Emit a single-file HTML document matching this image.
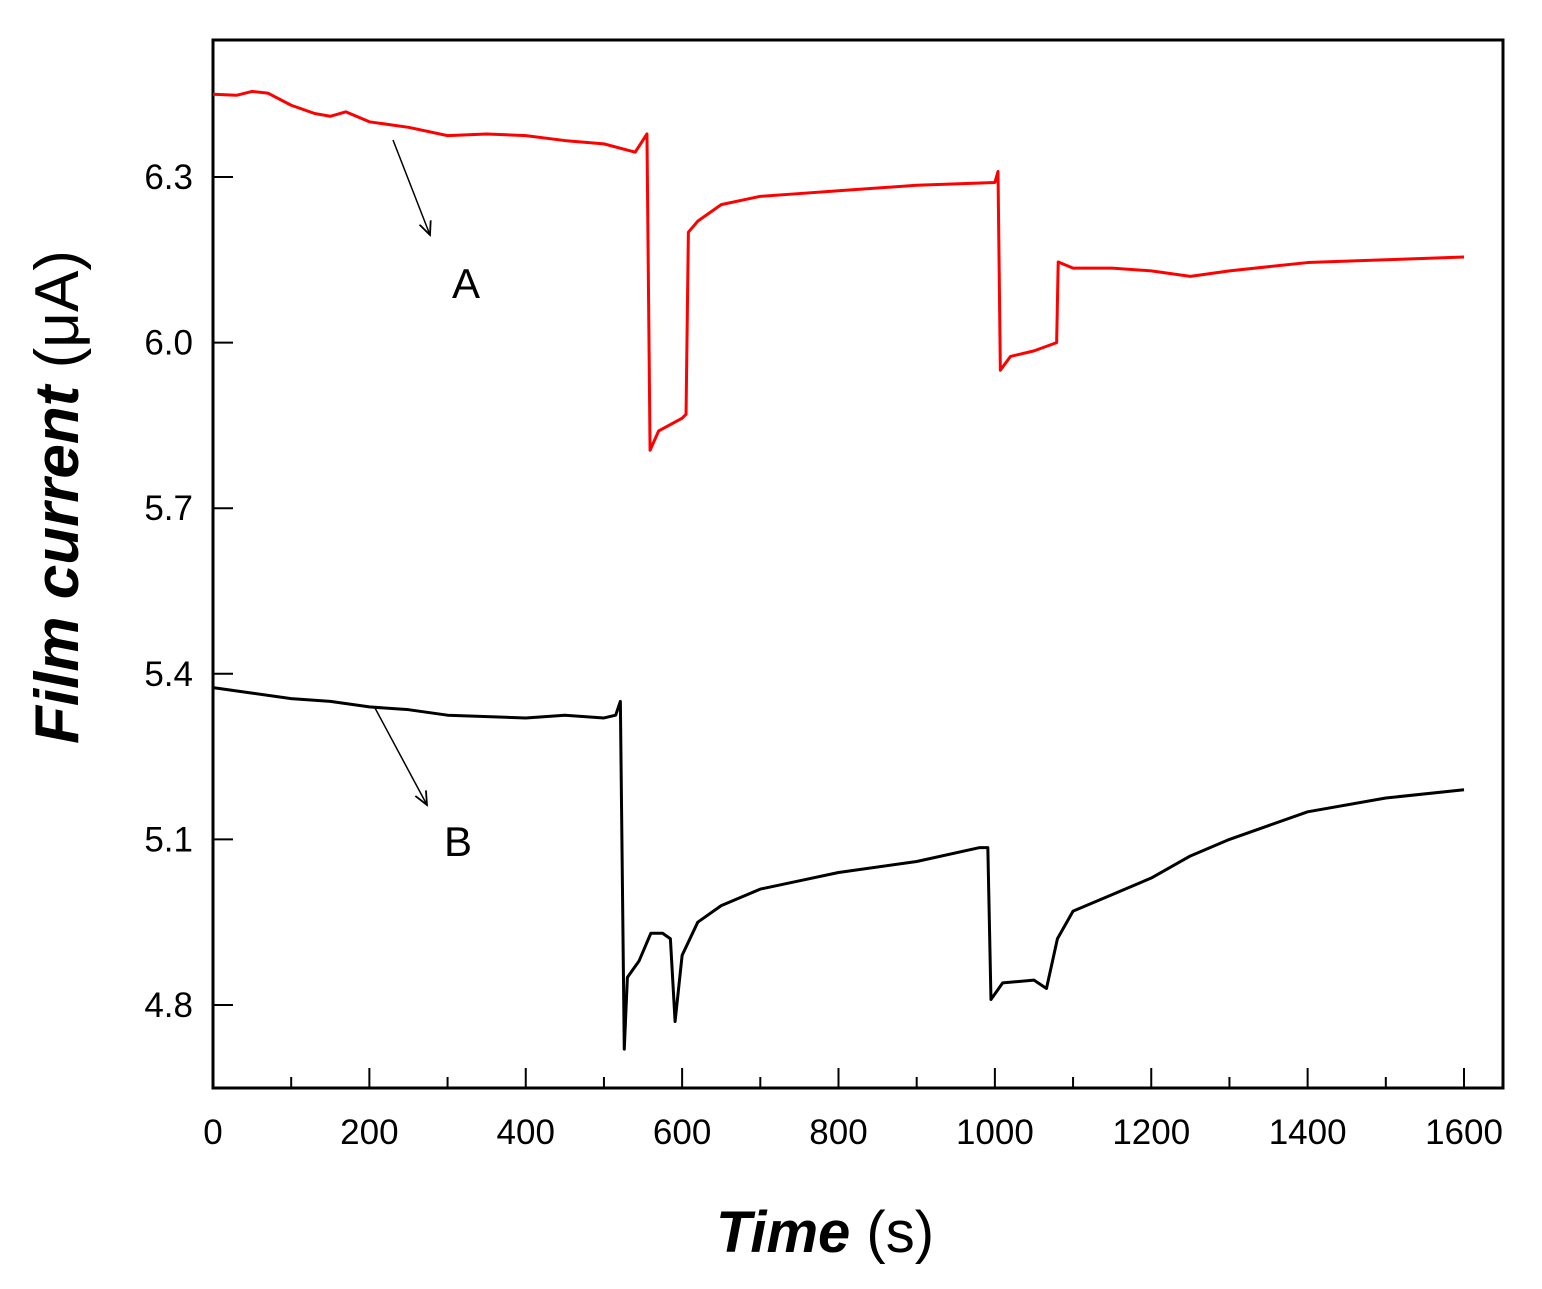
<!DOCTYPE html>
<html><head><meta charset="utf-8"><style>
body{margin:0;background:#fff}
svg text{font-family:"Liberation Sans",Arial,sans-serif}
</style></head><body>
<svg id="chart" width="1542" height="1284" viewBox="0 0 1542 1284" xmlns="http://www.w3.org/2000/svg">
<rect x="213" y="40" width="1290" height="1048" fill="none" stroke="#000" stroke-width="3"/>
<g id="ticks"></g>
<polyline id="lineA" fill="none" stroke="#ff0000" stroke-width="3" stroke-linejoin="round"/>
<polyline id="lineB" fill="none" stroke="#000" stroke-width="3" stroke-linejoin="round"/>
<defs><marker id="ah" markerWidth="10" markerHeight="10" refX="9" refY="5" orient="auto"><path d="M0,1 L9,5 L0,9" fill="none" stroke="#000" stroke-width="1.2"/></marker></defs>
<line x1="393" y1="140" x2="430" y2="235" stroke="#000" stroke-width="1.5" marker-end="url(#ah)"/>
<line x1="375" y1="708" x2="427" y2="805" stroke="#000" stroke-width="1.5" marker-end="url(#ah)"/>
<text x="466" y="298" font-size="42" text-anchor="middle">A</text>
<text x="458" y="856" font-size="42" text-anchor="middle">B</text>
<text x="825" y="1252" font-size="58" text-anchor="middle"><tspan font-weight="bold" font-style="italic">Time</tspan> (s)</text>
<text transform="translate(78,497) rotate(-90)" font-size="62" text-anchor="middle"><tspan font-weight="bold" font-style="italic">Film current</tspan> (μA)</text>
</svg>
<script>
const xTicks=[0,200,400,600,800,1000,1200,1400,1600];
const yTicks=[4.8,5.1,5.4,5.7,6.0,6.3];
const yTickLabels=["4.8","5.1","5.4","5.7","6.0","6.3"];
const timeA=[0,30,50,70,100,130,150,170,200,250,300,350,400,450,500,540,555,559,570,600,605,608,620,650,700,750,800,900,1000,1004,1007,1020,1050,1079,1081,1100,1150,1200,1250,1300,1400,1500,1600];
const currentA=[6.45,6.448,6.455,6.452,6.43,6.415,6.41,6.418,6.40,6.39,6.375,6.378,6.375,6.366,6.36,6.345,6.378,5.805,5.84,5.863,5.87,6.2,6.22,6.25,6.265,6.27,6.275,6.285,6.29,6.31,5.95,5.975,5.985,6.0,6.146,6.135,6.135,6.13,6.12,6.13,6.145,6.15,6.155];
const timeB=[0,50,100,150,200,250,300,400,450,500,515,521,526,530,545,560,575,585,591,600,620,650,700,750,800,900,980,991,995,1010,1050,1066,1080,1100,1150,1200,1250,1300,1400,1500,1600];
const currentB=[5.375,5.365,5.355,5.35,5.34,5.335,5.325,5.32,5.325,5.32,5.325,5.35,4.72,4.85,4.88,4.93,4.93,4.92,4.77,4.89,4.95,4.98,5.01,5.025,5.04,5.06,5.085,5.085,4.81,4.84,4.845,4.83,4.92,4.97,5.0,5.03,5.07,5.1,5.15,5.175,5.19];
const X0=213,XS=1251/1600;
const xPx=t=>X0+t*XS;
const yPx=v=>177+(6.3-v)*552;
const ns='http://www.w3.org/2000/svg';
const g=document.getElementById('ticks');
function mk(tag,attrs){const e=document.createElementNS(ns,tag);for(const k in attrs)e.setAttribute(k,attrs[k]);g.appendChild(e);return e;}
for(let t=100;t<1600;t+=200){
 const e=mk('line',{x1:xPx(t),x2:xPx(t),y1:1088,y2:1077,stroke:'#000','stroke-width':2});
 
 
}
xTicks.forEach(t=>{
 const e=mk('line',{x1:xPx(t),x2:xPx(t),y1:1088,y2:1068,stroke:'#000','stroke-width':2});
 
 
 const tx=mk('text',{x:xPx(t),y:1144,'font-size':35,'text-anchor':'middle'});
 tx.textContent=t;
 
 
});
yTicks.forEach((v,i)=>{
 const e=mk('line',{x1:213,x2:233,y1:yPx(v),y2:yPx(v),stroke:'#000','stroke-width':2});
 
 
 const tx=mk('text',{x:193,y:yPx(v)+12,'font-size':35,'text-anchor':'end'});
 tx.textContent=yTickLabels[i];
 
 
});
document.getElementById('lineA').setAttribute('points',timeA.map((t,i)=>xPx(t)+','+yPx(currentA[i])).join(' '));
document.getElementById('lineB').setAttribute('points',timeB.map((t,i)=>xPx(t)+','+yPx(currentB[i])).join(' '));
</script>
</body></html>
